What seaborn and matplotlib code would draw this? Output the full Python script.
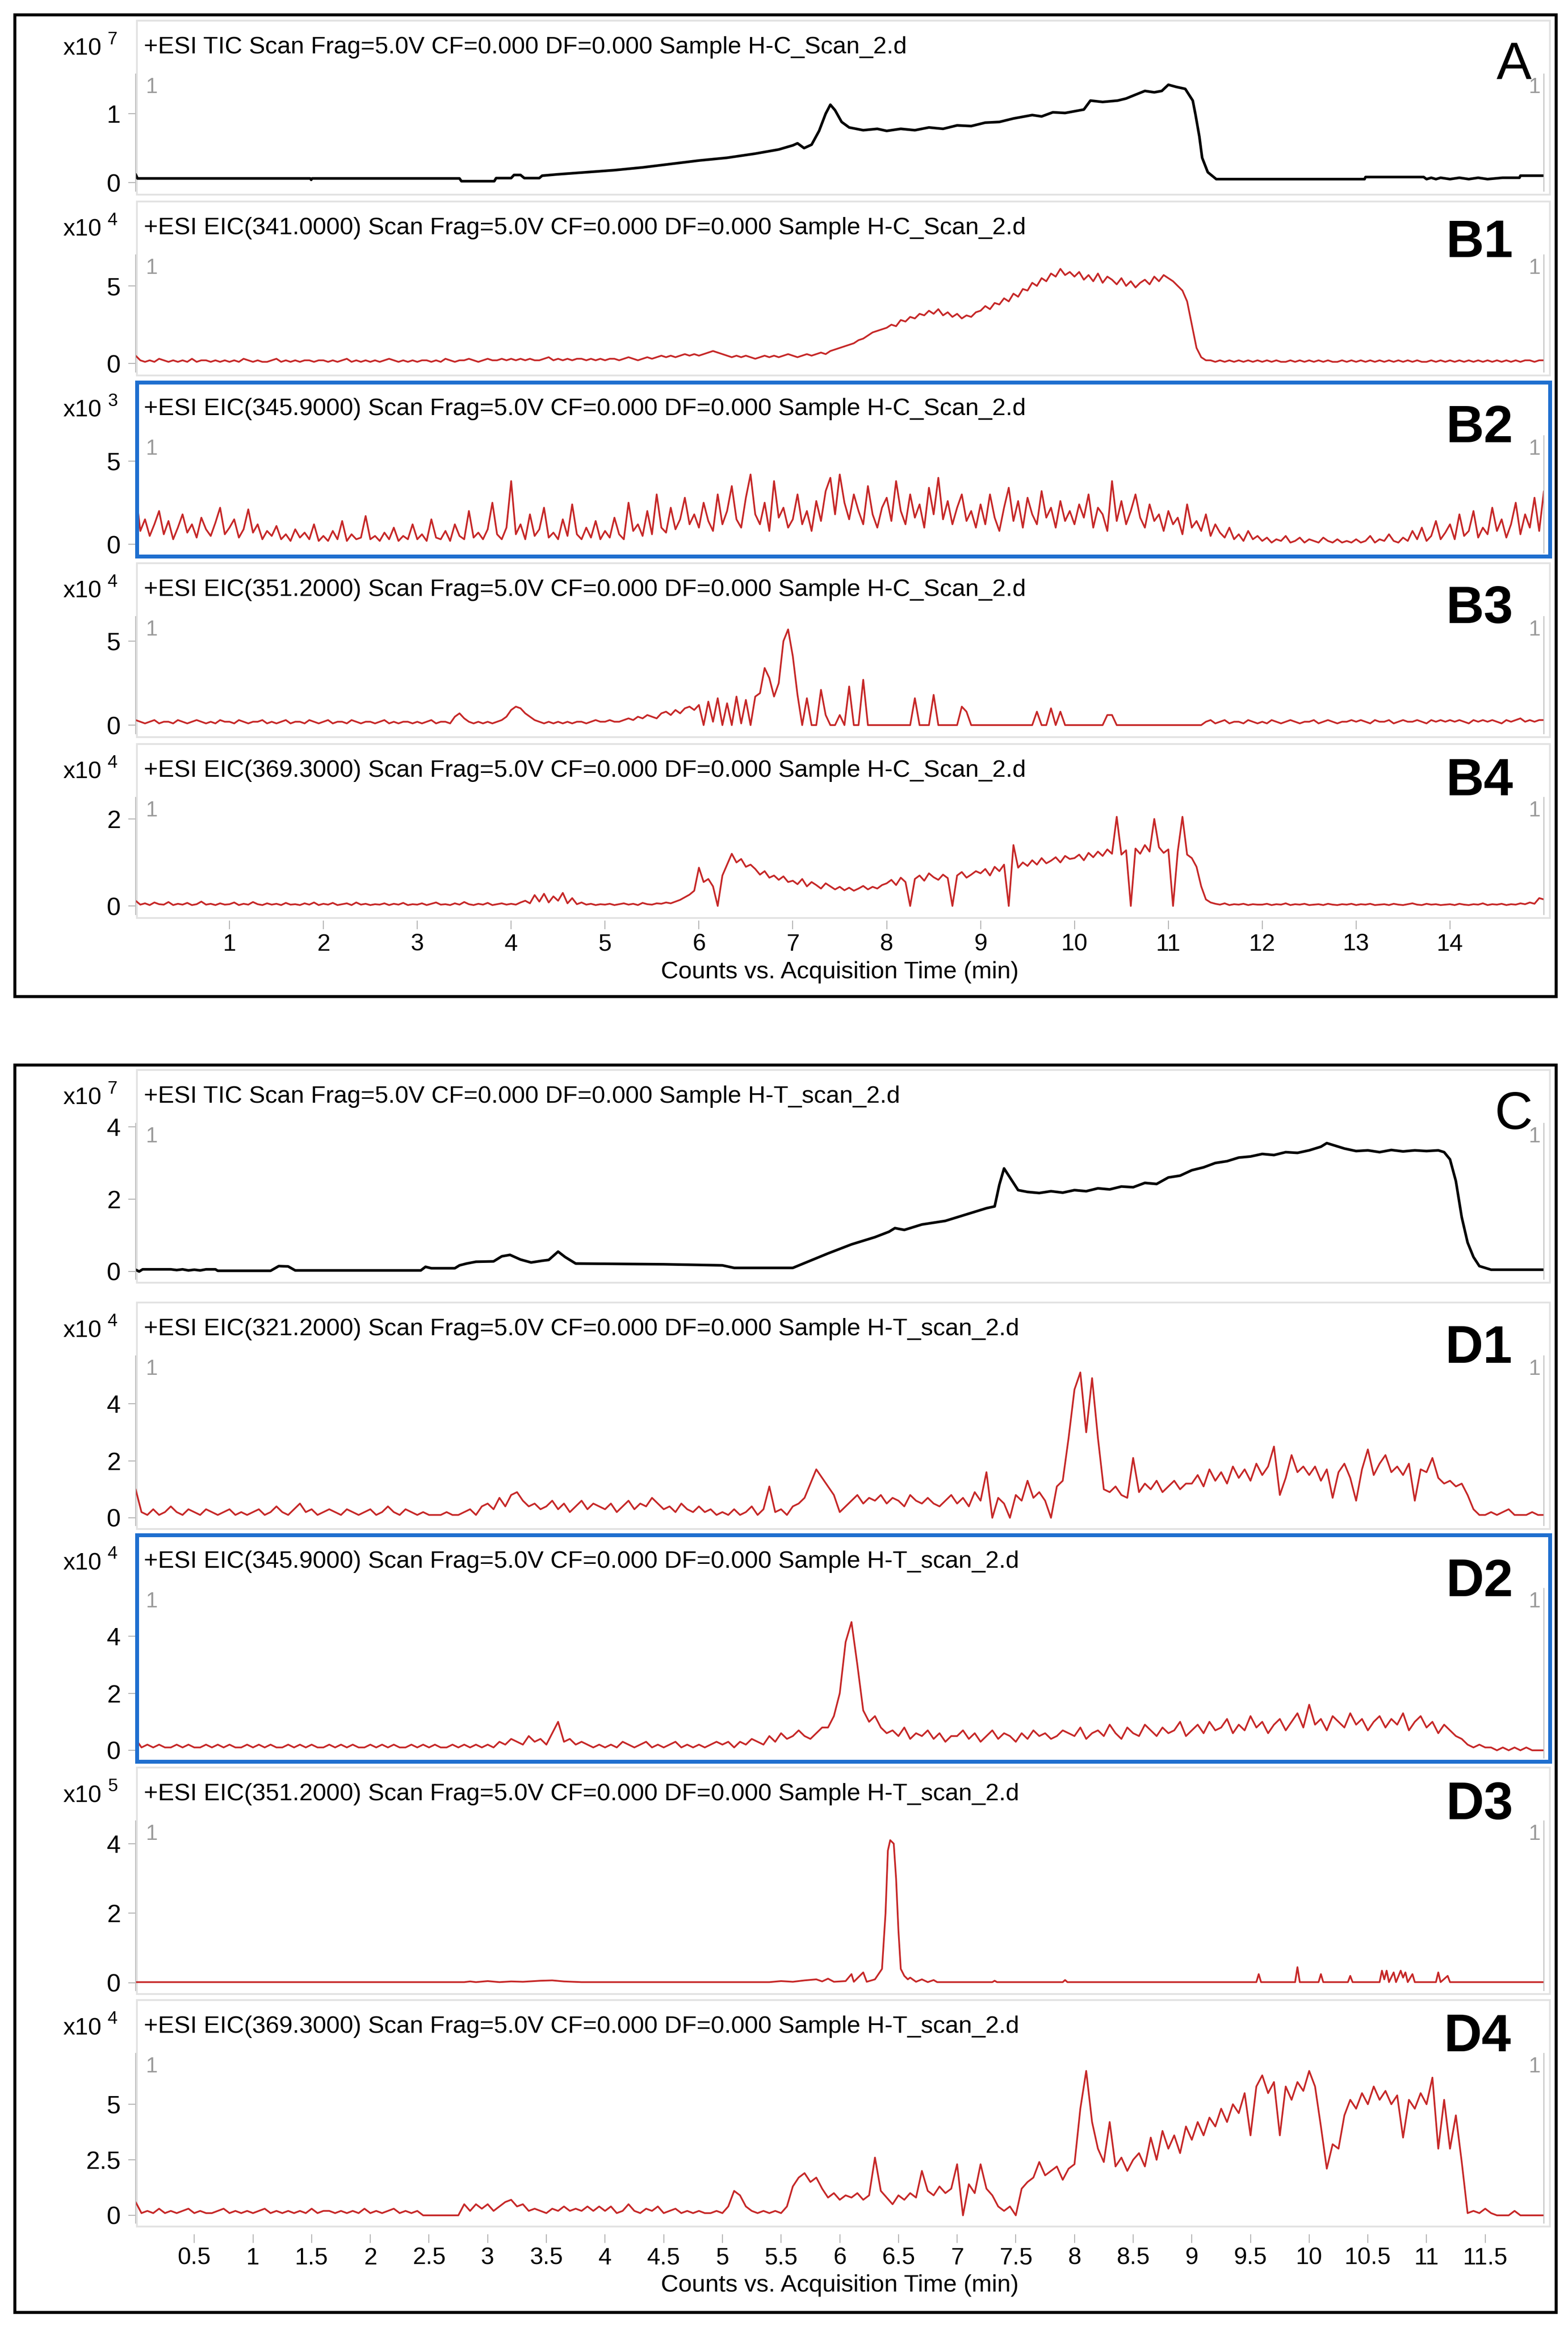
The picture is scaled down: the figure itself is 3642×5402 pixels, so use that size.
import numpy as np
import matplotlib
matplotlib.use("Agg")
import matplotlib.pyplot as plt
from matplotlib.patches import Rectangle
import seaborn as sns

# ---------------------------------------------------------------- data
STEP = 0.05  # min, sampling step of the gridded EIC traces

# TIC traces as (time [min], counts)
A_TIC = [(0, 0.12), (0.02, 0.06), (1.86, 0.06), (1.87, 0.04), (1.88, 0.06), (3.45, 0.06), (3.47, 0.02),
         (3.82, 0.02), (3.84, 0.065), (4.0, 0.065), (4.03, 0.11), (4.1, 0.11), (4.14, 0.065), (4.3, 0.065),
         (4.33, 0.1), (4.5, 0.12), (4.8, 0.15), (5.1, 0.18), (5.4, 0.22), (5.7, 0.27), (6.0, 0.32),
         (6.3, 0.36), (6.6, 0.42), (6.85, 0.48), (7.0, 0.54), (7.05, 0.57), (7.12, 0.5), (7.2, 0.55),
         (7.28, 0.75), (7.35, 1.0), (7.4, 1.13), (7.45, 1.05), (7.52, 0.88), (7.6, 0.8), (7.75, 0.76),
         (7.9, 0.78), (8.0, 0.75), (8.15, 0.78), (8.3, 0.76), (8.45, 0.8), (8.6, 0.78), (8.75, 0.83),
         (8.9, 0.82), (9.05, 0.87), (9.2, 0.88), (9.35, 0.93), (9.55, 0.98), (9.65, 0.96), (9.77, 1.02),
         (9.9, 1.01), (10.1, 1.06), (10.17, 1.19), (10.3, 1.17), (10.46, 1.19), (10.55, 1.22),
         (10.64, 1.27), (10.75, 1.33), (10.85, 1.31), (10.93, 1.33), (11.0, 1.42), (11.08, 1.39),
         (11.18, 1.36), (11.26, 1.19), (11.29, 0.98), (11.33, 0.67), (11.36, 0.36), (11.42, 0.15),
         (11.51, 0.05), (13.09, 0.05), (13.1, 0.08), (13.72, 0.08), (13.75, 0.05), (13.8, 0.07),
         (13.85, 0.05), (13.9, 0.07), (14.0, 0.05), (14.1, 0.07), (14.2, 0.05), (14.3, 0.07),
         (14.4, 0.05), (14.56, 0.07), (14.74, 0.07), (14.75, 0.1), (15.0, 0.1)]

C_TIC = [(0, 0.05), (0.03, 0.0), (0.06, 0.06), (0.3, 0.06), (0.35, 0.04), (0.4, 0.06), (0.45, 0.03),
         (0.5, 0.05), (0.55, 0.03), (0.6, 0.06), (0.68, 0.06), (0.7, 0.02), (1.15, 0.02), (1.22, 0.15),
         (1.3, 0.14), (1.36, 0.03), (2.43, 0.03), (2.47, 0.13), (2.52, 0.09), (2.72, 0.09), (2.76, 0.17),
         (2.82, 0.22), (2.9, 0.27), (3.05, 0.28), (3.12, 0.42), (3.19, 0.46), (3.28, 0.33), (3.37, 0.25),
         (3.47, 0.3), (3.52, 0.32), (3.6, 0.55), (3.66, 0.4), (3.75, 0.22), (4.5, 0.2), (5.0, 0.17),
         (5.1, 0.1), (5.6, 0.1), (5.75, 0.3), (5.9, 0.5), (6.1, 0.75), (6.3, 0.95), (6.42, 1.1),
         (6.47, 1.2), (6.55, 1.15), (6.7, 1.3), (6.9, 1.4), (7.1, 1.6), (7.25, 1.75), (7.32, 1.8),
         (7.36, 2.4), (7.4, 2.85), (7.45, 2.6), (7.52, 2.25), (7.6, 2.2), (7.7, 2.17), (7.8, 2.22),
         (7.9, 2.18), (8.0, 2.25), (8.1, 2.22), (8.2, 2.3), (8.3, 2.27), (8.4, 2.35), (8.5, 2.33),
         (8.6, 2.45), (8.7, 2.42), (8.8, 2.6), (8.9, 2.65), (9.0, 2.8), (9.1, 2.88), (9.2, 3.0),
         (9.3, 3.05), (9.4, 3.15), (9.5, 3.18), (9.6, 3.25), (9.7, 3.22), (9.8, 3.3), (9.9, 3.28),
         (10.0, 3.35), (10.1, 3.45), (10.15, 3.55), (10.2, 3.5), (10.3, 3.4), (10.4, 3.33), (10.5, 3.35),
         (10.6, 3.3), (10.7, 3.36), (10.8, 3.32), (10.9, 3.35), (11.0, 3.33), (11.1, 3.35), (11.15, 3.3),
         (11.2, 3.1), (11.25, 2.5), (11.3, 1.5), (11.35, 0.8), (11.4, 0.4), (11.45, 0.15), (11.55, 0.05),
         (12.0, 0.05)]

D3_EIC351 = [(0, 0.02), (2.8, 0.02), (2.85, 0.04), (2.9, 0.02), (3.0, 0.05), (3.1, 0.02), (3.2, 0.04),
             (3.3, 0.03), (3.45, 0.06), (3.55, 0.07), (3.65, 0.04), (3.8, 0.02), (5.4, 0.02), (5.5, 0.05),
             (5.6, 0.03), (5.7, 0.07), (5.8, 0.1), (5.85, 0.04), (5.9, 0.12), (5.95, 0.03), (6.05, 0.05),
             (6.1, 0.25), (6.12, 0.03), (6.2, 0.3), (6.23, 0.03), (6.3, 0.1), (6.36, 0.4), (6.39, 2.0),
             (6.41, 3.8), (6.43, 4.1), (6.46, 4.0), (6.48, 3.0), (6.5, 1.5), (6.52, 0.4), (6.55, 0.2),
             (6.58, 0.1), (6.6, 0.15), (6.65, 0.03), (6.7, 0.1), (6.75, 0.02), (6.8, 0.08), (6.83, 0.02),
             (7.3, 0.02), (7.32, 0.06), (7.34, 0.02), (7.9, 0.02), (7.92, 0.08), (7.94, 0.02), (9.55, 0.02),
             (9.57, 0.25), (9.59, 0.02), (9.88, 0.02), (9.9, 0.45), (9.92, 0.02), (10.08, 0.02),
             (10.1, 0.25), (10.12, 0.02), (10.33, 0.02), (10.35, 0.2), (10.37, 0.02), (10.6, 0.02),
             (10.62, 0.35), (10.64, 0.1), (10.66, 0.35), (10.68, 0.02), (10.72, 0.3), (10.74, 0.02),
             (10.78, 0.35), (10.8, 0.15), (10.82, 0.3), (10.84, 0.02), (10.88, 0.25), (10.9, 0.02),
             (11.08, 0.02), (11.1, 0.3), (11.12, 0.02), (11.18, 0.2), (11.2, 0.02), (12.0, 0.02)]

# gridded EIC traces (one row = one minute, STEP spacing), integer units
B1_EIC341 = [  # x 0.1e4
    5, 2, 1, 2, 1, 3, 2, 1, 2, 1, 2, 1, 3, 1, 2, 2, 1, 2, 1, 2,
    1, 2, 1, 3, 2, 1, 2, 1, 1, 2, 3, 1, 2, 1, 2, 1, 2, 2, 1, 2,
    2, 1, 2, 1, 2, 3, 1, 2, 1, 2, 1, 2, 1, 2, 3, 2, 1, 2, 1, 2,
    1, 2, 2, 1, 2, 1, 3, 2, 1, 2, 2, 3, 2, 1, 2, 3, 2, 2, 3, 2,
    3, 2, 3, 2, 3, 2, 2, 3, 4, 2, 3, 2, 3, 2, 3, 3, 2, 3, 2, 3,
    2, 3, 3, 2, 3, 4, 3, 2, 3, 4, 3, 4, 5, 4, 5, 4, 5, 6, 5, 6,
    5, 6, 7, 8, 7, 6, 5, 4, 5, 4, 5, 4, 3, 4, 5, 4, 5, 4, 5, 6,
    5, 4, 5, 6, 5, 6, 7, 6, 8, 9, 10, 11, 12, 13, 15, 16, 18, 20, 21, 22,
    23, 25, 24, 28, 27, 30, 29, 32, 31, 34, 32, 35, 31, 33, 30, 32, 29, 31, 30, 33,
    34, 37, 35, 39, 38, 42, 40, 45, 43, 48, 47, 52, 50, 55, 53, 58, 56, 61, 57, 59,
    56, 59, 54, 57, 53, 58, 52, 56, 54, 51, 55, 50, 53, 49, 52, 54, 51, 56, 53, 57,
    55, 53, 50, 47, 40, 25, 10, 4, 2, 2, 1, 2, 1, 2, 1, 2, 1, 2, 1, 2,
    1, 2, 1, 2, 1, 1, 2, 1, 2, 1, 2, 1, 2, 1, 2, 1, 1, 2, 1, 2,
    1, 2, 1, 2, 1, 2, 1, 2, 1, 2, 1, 2, 1, 2, 1, 1, 2, 1, 2, 1,
    2, 1, 2, 1, 2, 1, 2, 1, 2, 1, 2, 1, 2, 1, 2, 1, 2, 2, 1, 2,
    2]

B2_EIC345 = [  # x 0.1e3
    32, 8, 15, 5, 12, 20, 6, 14, 3, 10, 18, 7, 12, 4, 16, 9, 5, 13, 22, 6,
    10, 15, 4, 9, 21, 7, 12, 3, 8, 5, 11, 3, 6, 2, 9, 4, 7, 3, 12, 2,
    5, 2, 8, 3, 14, 2, 6, 3, 4, 17, 3, 5, 2, 7, 3, 10, 2, 5, 3, 12,
    3, 6, 2, 15, 4, 3, 8, 2, 12, 5, 3, 20, 4, 7, 3, 9, 25, 6, 3, 10,
    38, 6, 12, 3, 18, 5, 9, 22, 4, 7, 3, 15, 5, 24, 6, 3, 10, 4, 14, 3,
    8, 4, 16, 6, 3, 25, 8, 12, 5, 20, 6, 30, 10, 7, 22, 9, 15, 28, 12, 18,
    10, 25, 14, 8, 30, 12, 20, 35, 15, 10, 28, 42, 18, 12, 25, 8, 38, 16, 22, 10,
    15, 30, 12, 20, 8, 26, 14, 32, 40, 18, 42, 25, 15, 30, 20, 12, 35, 18, 10, 22,
    28, 14, 38, 20, 12, 30, 16, 24, 10, 34, 18, 40, 15, 26, 12, 22, 30, 14, 20, 10,
    24, 12, 30, 16, 8, 22, 34, 14, 26, 10, 28, 18, 12, 32, 16, 22, 10, 26, 14, 20,
    12, 24, 16, 30, 10, 22, 18, 8, 38, 14, 26, 12, 20, 30, 16, 10, 24, 14, 18, 8,
    20, 12, 16, 6, 24, 10, 14, 8, 18, 5, 12, 7, 4, 10, 3, 6, 2, 8, 3, 5,
    2, 4, 1, 3, 2, 5, 1, 2, 4, 1, 3, 2, 1, 4, 2, 1, 3, 1, 2, 1,
    3, 1, 2, 5, 1, 3, 2, 6, 2, 1, 4, 2, 8, 3, 10, 2, 5, 14, 3, 7,
    12, 3, 18, 5, 8, 20, 4, 10, 6, 22, 8, 15, 4, 12, 25, 6, 18, 10, 28, 8,
    32]

B3_EIC351 = [  # x 0.1e4
    3, 2, 1, 2, 3, 1, 2, 2, 1, 3, 2, 1, 2, 3, 2, 1, 2, 1, 3, 2,
    2, 1, 3, 2, 1, 2, 2, 3, 1, 2, 1, 2, 3, 1, 2, 2, 1, 3, 2, 1,
    2, 3, 1, 2, 2, 1, 3, 2, 1, 2, 2, 1, 2, 3, 1, 2, 1, 2, 2, 1,
    2, 1, 2, 3, 1, 2, 2, 1, 5, 7, 4, 2, 1, 2, 1, 2, 1, 2, 3, 5,
    9, 11, 10, 7, 5, 3, 2, 1, 2, 1, 2, 1, 2, 1, 2, 2, 1, 2, 3, 2,
    2, 3, 2, 2, 3, 4, 3, 5, 4, 6, 5, 4, 7, 8, 6, 9, 7, 10, 11, 9,
    12, 0, 14, 2, 16, 0, 13, 0, 17, 1, 15, 0, 17, 19, 34, 28, 17, 25, 50, 57,
    41, 18, 0, 16, 0, 0, 21, 6, 0, 0, 6, 0, 23, 0, 0, 27, 0, 0, 0, 0,
    0, 0, 0, 0, 0, 0, 16, 0, 0, 0, 18, 0, 0, 0, 0, 0, 11, 8, 0, 0,
    0, 0, 0, 0, 0, 0, 0, 0, 0, 0, 0, 0, 8, 0, 0, 10, 0, 8, 0, 0,
    0, 0, 0, 0, 0, 0, 0, 6, 6, 0, 0, 0, 0, 0, 0, 0, 0, 0, 0, 0,
    0, 0, 0, 0, 0, 0, 0, 0, 2, 3, 1, 2, 3, 1, 2, 2, 1, 3, 2, 1,
    2, 1, 3, 2, 1, 2, 3, 2, 1, 2, 2, 3, 1, 2, 3, 2, 1, 2, 2, 3,
    2, 3, 2, 1, 3, 2, 2, 3, 1, 2, 3, 2, 2, 3, 2, 1, 3, 2, 3, 2,
    3, 2, 3, 2, 1, 3, 2, 3, 2, 3, 2, 1, 3, 2, 3, 4, 2, 3, 2, 3,
    3]

B4_EIC369 = [  # x 0.01e4
    12, 3, 6, 2, 8, 4, 3, 9, 2, 5, 3, 7, 2, 4, 10, 3, 5, 2, 6, 3,
    4, 8, 2, 5, 3, 9, 4, 2, 6, 3, 5, 2, 7, 3, 4, 2, 6, 3, 8, 2,
    5, 3, 7, 2, 4, 6, 2, 8, 3, 5, 2, 4, 3, 6, 2, 5, 3, 7, 2, 4,
    3, 6, 2, 5, 8, 3, 4, 2, 6, 3, 9, 4, 2, 5, 3, 7, 2, 4, 6, 3,
    5, 3, 8, 12, 6, 25, 10, 28, 8, 22, 12, 30, 6, 18, 4, 8, 3, 5, 2, 4,
    3, 5, 2, 4, 6, 3, 5, 2, 7, 4, 3, 6, 5, 8, 6, 10, 14, 20, 26, 35,
    88, 55, 62, 45, 0, 70, 95, 120, 100, 108, 90, 95, 85, 72, 80, 65, 70, 60, 68, 55,
    58, 50, 62, 45, 55, 48, 40, 52, 45, 38, 44, 36, 42, 35, 40, 46, 38, 44, 40, 48,
    52, 60, 48, 65, 55, 0, 62, 70, 58, 75, 66, 60, 72, 64, 0, 70, 78, 65, 72, 80,
    75, 85, 70, 90, 80, 95, 0, 140, 88, 100, 92, 105, 95, 110, 98, 104, 112, 100, 115, 108,
    110, 118, 105, 122, 112, 125, 115, 130, 120, 205, 118, 128, 0, 132, 120, 140, 125, 200, 135, 122,
    130, 0, 125, 205, 118, 110, 90, 45, 15, 8, 5, 3, 6, 2, 4, 3, 5, 2, 4, 3,
    3, 5, 2, 4, 3, 6, 2, 4, 3, 5, 2, 3, 4, 2, 5, 3, 2, 4, 3, 5,
    2, 4, 3, 5, 2, 3, 4, 2, 5, 3, 2, 4, 6, 3, 2, 5, 3, 4, 2, 3,
    4, 2, 5, 3, 2, 4, 3, 6, 2, 4, 3, 5, 2, 4, 3, 6, 4, 8, 5, 18,
    15]

D1_EIC321 = [  # x 0.1e4
    10, 2, 1, 3, 1, 2, 4, 2, 1, 3, 2, 1, 3, 2, 1, 2, 3, 1, 2, 1,
    2, 3, 1, 2, 4, 2, 1, 3, 5, 2, 3, 1, 2, 3, 2, 1, 3, 2, 1, 2,
    3, 1, 2, 4, 2, 1, 3, 2, 1, 2, 1, 1, 1, 2, 1, 1, 2, 3, 1, 4,
    5, 3, 7, 4, 8, 9, 6, 4, 5, 3, 4, 6, 3, 5, 2, 4, 6, 3, 5, 4,
    3, 5, 2, 4, 6, 3, 5, 4, 7, 5, 3, 4, 2, 5, 3, 2, 4, 2, 3, 1,
    2, 1, 3, 1, 2, 4, 1, 3, 11, 2, 3, 1, 4, 5, 7, 12, 17, 14, 11, 8,
    2, 4, 6, 8, 5, 7, 6, 8, 5, 7, 6, 4, 8, 6, 5, 7, 5, 4, 6, 8,
    5, 7, 4, 9, 6, 16, 0, 7, 5, 0, 8, 6, 13, 7, 9, 6, 0, 11, 13, 28,
    45, 51, 30, 49, 28, 10, 9, 11, 8, 7, 21, 9, 12, 10, 13, 9, 11, 13, 10, 12,
    12, 15, 11, 17, 13, 16, 12, 18, 14, 17, 13, 19, 15, 18, 25, 8, 14, 22, 16, 18,
    15, 18, 13, 17, 7, 16, 19, 14, 6, 17, 24, 15, 19, 22, 16, 18, 15, 19, 6, 17,
    16, 21, 14, 12, 13, 11, 12, 8, 3, 1, 1, 2, 1, 2, 3, 1, 1, 1, 2, 1,
    1]

D2_EIC345 = [  # x 0.1e4
    4, 1, 2, 1, 2, 1, 1, 2, 1, 2, 1, 1, 2, 1, 2, 1, 2, 1, 1, 2,
    1, 2, 1, 2, 1, 1, 2, 1, 2, 1, 2, 1, 1, 2, 1, 2, 1, 2, 1, 1,
    2, 1, 2, 1, 2, 1, 1, 2, 1, 2, 1, 2, 1, 1, 2, 1, 2, 1, 2, 1,
    2, 1, 3, 2, 4, 3, 2, 5, 3, 4, 2, 6, 10, 3, 4, 2, 3, 2, 1, 2,
    1, 2, 1, 3, 2, 1, 2, 3, 1, 2, 1, 2, 3, 1, 2, 1, 2, 1, 2, 3,
    2, 3, 1, 3, 2, 4, 3, 2, 5, 3, 6, 4, 5, 7, 5, 4, 6, 8, 8, 12,
    20, 38, 45, 30, 14, 10, 12, 8, 6, 7, 5, 8, 4, 6, 5, 7, 4, 6, 3, 5,
    5, 7, 4, 6, 3, 5, 7, 4, 6, 5, 3, 6, 4, 7, 5, 6, 4, 5, 7, 6,
    5, 8, 4, 6, 7, 5, 9, 6, 4, 8, 6, 5, 9, 7, 5, 8, 6, 7, 10, 5,
    7, 9, 6, 10, 7, 8, 11, 6, 9, 7, 12, 8, 10, 6, 9, 11, 7, 10, 13, 8,
    16, 9, 11, 7, 12, 10, 8, 13, 9, 11, 7, 10, 12, 8, 11, 9, 13, 7, 10, 12,
    8, 10, 6, 9, 7, 5, 4, 2, 1, 2, 1, 1, 0, 1, 0, 1, 0, 1, 0, 0,
    0]

D4_EIC369 = [  # x 0.1e4
    6, 1, 2, 1, 3, 1, 2, 1, 2, 3, 1, 2, 1, 1, 2, 3, 1, 2, 1, 2,
    1, 2, 3, 1, 2, 1, 2, 1, 2, 1, 3, 1, 2, 2, 1, 2, 1, 2, 1, 3,
    1, 2, 1, 2, 3, 1, 2, 1, 2, 0, 0, 0, 0, 0, 0, 0, 5, 2, 5, 3,
    5, 2, 4, 6, 7, 4, 5, 2, 3, 2, 1, 3, 2, 4, 2, 3, 2, 4, 2, 4,
    2, 4, 1, 2, 5, 2, 1, 3, 2, 4, 1, 2, 3, 1, 2, 1, 2, 1, 1, 2,
    1, 4, 11, 9, 4, 2, 1, 2, 1, 2, 1, 4, 13, 17, 19, 15, 17, 12, 8, 10,
    7, 9, 8, 10, 7, 9, 26, 11, 8, 5, 9, 7, 10, 8, 20, 11, 9, 13, 10, 12,
    23, 0, 14, 10, 23, 12, 9, 4, 2, 4, 0, 12, 15, 17, 24, 18, 20, 22, 16, 21,
    23, 48, 65, 42, 30, 24, 42, 22, 26, 20, 25, 28, 22, 35, 25, 38, 30, 36, 28, 40,
    34, 42, 36, 44, 40, 48, 42, 50, 46, 55, 36, 58, 63, 55, 60, 36, 58, 52, 60, 56,
    65, 58, 40, 21, 32, 30, 45, 52, 48, 55, 50, 58, 52, 56, 50, 54, 35, 52, 48, 55,
    50, 62, 30, 52, 30, 45, 24, 1, 2, 1, 3, 1, 0, 0, 0, 2, 0, 0, 0, 0,
    0]

X1_TICKS = list(range(1, 15))
X1_LABELS = [str(v) for v in X1_TICKS]
X2_TICKS = [0.5, 1, 1.5, 2, 2.5, 3, 3.5, 4, 4.5, 5, 5.5, 6, 6.5, 7, 7.5, 8, 8.5, 9, 9.5, 10, 10.5, 11, 11.5]
X2_LABELS = ['0.5', '1', '1.5', '2', '2.5', '3', '3.5', '4', '4.5', '5', '5.5', '6', '6.5', '7', '7.5',
             '8', '8.5', '9', '9.5', '10', '10.5', '11', '11.5']

TAIL_C = "Sample H-C_Scan_2.d"
TAIL_T = "Sample H-T_scan_2.d"
MID = "Scan Frag=5.0V CF=0.000 DF=0.000"

# ---------------------------------------------------------------- figure
sns.set_theme(style="white")
plt.rcParams['font.family'] = ['Liberation Sans', 'DejaVu Sans']

W, H = 3642, 5402
fig = plt.figure(figsize=(W / 100, H / 100), dpi=100)
fig.patch.set_facecolor('white')


def fx(x):
    return x / W


def fy(y):
    return 1 - y / H


XL, XR = 315, 3586
RED = '#c62828'
GRAYTICK = '#b0b0b0'


def pairs(p):
    return np.array([a for a, _ in p]), np.array([b for _, b in p])


def grid(v, scale):
    v = np.asarray(v, dtype=float) / scale
    return np.arange(len(v)) * STEP, v


tA, yA = pairs(A_TIC)
tC, yC = pairs(C_TIC)
tD3, yD3 = pairs(D3_EIC351)
tB1, yB1 = grid(B1_EIC341, 10)
tB2, yB2 = grid(B2_EIC345, 10)
tB3, yB3 = grid(B3_EIC351, 10)
tB4, yB4 = grid(B4_EIC369, 100)
tD1, yD1 = grid(D1_EIC321, 10)
tD2, yD2 = grid(D2_EIC345, 10)
tD4, yD4 = grid(D4_EIC369, 10)

TIC_LW, EIC_LW = 4.4, 2.9

# header_y, zero_off, bottom_off, px per unit, yticks, ylabels, exponent, title, letter, letter pos, bold, data, color, lw, xlim, blue
panels = [
    (110, 314, 334, 160, [0, 1], ['0', '1'], '7', f"+ESI TIC {MID} {TAIL_C}", 'A', (3557, 152), False, (tA, yA), 'black', TIC_LW, (0, 15), False),
    (530, 314, 334, 36, [0, 5], ['0', '5'], '4', f"+ESI EIC(341.0000) {MID} {TAIL_C}", 'B1', (3515, 565), True, (tB1, yB1), RED, EIC_LW, (0, 15), False),
    (950, 314, 334, 38.6, [0, 5], ['0', '5'], '3', f"+ESI EIC(345.9000) {MID} {TAIL_C}", 'B2', (3515, 995), True, (tB2, yB2), RED, EIC_LW, (0, 15), True),
    (1370, 314, 334, 39, [0, 5], ['0', '5'], '4', f"+ESI EIC(351.2000) {MID} {TAIL_C}", 'B3', (3515, 1415), True, (tB3, yB3), RED, EIC_LW, (0, 15), False),
    (1790, 314, 334, 101, [0, 2], ['0', '2'], '4', f"+ESI EIC(369.3000) {MID} {TAIL_C}", 'B4', (3515, 1815), True, (tB4, yB4), RED, EIC_LW, (0, 15), False),
    (2547, 406, 424, 84, [0, 2, 4], ['0', '2', '4'], '7', f"+ESI TIC {MID} {TAIL_T}", 'C', (3560, 2590), False, (tC, yC), 'black', TIC_LW, (0, 12), False),
    (3087, 438, 456, 66.2, [0, 2, 4], ['0', '2', '4'], '4', f"+ESI EIC(321.2000) {MID} {TAIL_T}", 'D1', (3513, 3133), True, (tD1, yD1), RED, EIC_LW, (0, 12), False),
    (3627, 438, 456, 66.2, [0, 2, 4], ['0', '2', '4'], '4', f"+ESI EIC(345.9000) {MID} {TAIL_T}", 'D2', (3515, 3675), True, (tD2, yD2), RED, EIC_LW, (0, 12), True),
    (4167, 438, 456, 80.8, [0, 2, 4], ['0', '2', '4'], '5', f"+ESI EIC(351.2000) {MID} {TAIL_T}", 'D3', (3515, 4193), True, (tD3, yD3), RED, EIC_LW, (0, 12), False),
    (4707, 438, 456, 51.6, [0, 2.5, 5], ['0', '2.5', '5'], '4', f"+ESI EIC(369.3000) {MID} {TAIL_T}", 'D4', (3510, 4732), True, (tD4, yD4), RED, EIC_LW, (0, 12), False),
]

for (h, zoff, boff, k, yt, yl, expo, title, letter, lpos, bold, (tt, yy), col, lw, xlim, blue) in panels:
    top, zero, bottom = h + 62, h + zoff, h + boff
    # panel frame
    fr = Rectangle((fx(318), fy(bottom + 8)), fx(3600) - fx(318), (bottom + 8 - (h - 62)) / H,
                   transform=fig.transFigure, fill=False,
                   edgecolor='#1f6fcf' if blue else '#e2e2e2',
                   linewidth=6.5 if blue else 3.0, zorder=6 if blue else -1)
    fig.add_artist(fr)

    ax = fig.add_axes([fx(XL), fy(bottom), fx(XR) - fx(XL), (bottom - top) / H])
    ax.set_facecolor('none')
    sns.lineplot(x=tt, y=yy, ax=ax, color=col, linewidth=lw, estimator=None, sort=False)
    ax.set_xlim(*xlim)
    ax.set_ylim(-(bottom - zero) / k, (zero - top) / k)
    ax.set_xticks([])
    ax.set_yticks(yt)
    ax.set_yticklabels(yl)
    ax.set_xlabel('')
    ax.set_ylabel('')
    for s in ('top', 'bottom'):
        ax.spines[s].set_visible(False)
    for s in ('left', 'right'):
        ax.spines[s].set_visible(True)
        ax.spines[s].set_color('#bdbdbd')
        ax.spines[s].set_linewidth(1.6)
    ax.tick_params(axis='y', left=True, direction='out', length=12, width=1.6,
                   color=GRAYTICK, labelsize=42, pad=13, labelcolor='black')

    # texts
    fig.text(fx(334), fy(h), title, fontsize=40.5, ha='left', va='center', color='black')
    fig.text(fx(236), fy(h + 4), 'x10', fontsize=40, ha='right', va='center', color='black')
    fig.text(fx(250), fy(h - 18), expo, fontsize=30, ha='left', va='center', color='black')
    fig.text(fx(lpos[0]), fy(lpos[1]), letter, fontsize=88, ha='right', va='center',
             fontweight='bold' if bold else 'normal', color='black')
    fig.text(fx(338), fy(top + 31), '1', fontsize=36, ha='left', va='center', color='#9a9a9a')
    fig.text(fx(3578), fy(top + 31), '1', fontsize=36, ha='right', va='center', color='#9a9a9a')

# x axes (scales under each group)
for tick_top, xlim, ticks, labels, xlab_y in [(2138, (0, 15), X1_TICKS, X1_LABELS, 2258),
                                             (5189, (0, 12), X2_TICKS, X2_LABELS, 5308)]:
    axx = fig.add_axes([fx(XL), fy(tick_top), fx(XR) - fx(XL), 0.00005])
    axx.set_xlim(*xlim)
    axx.set_xticks(ticks)
    axx.set_xticklabels(labels)
    axx.set_yticks([])
    for s in axx.spines.values():
        s.set_visible(False)
    axx.patch.set_visible(False)
    axx.tick_params(axis='x', bottom=True, direction='out', length=14.5, width=1.6,
                    color=GRAYTICK, labelsize=40, pad=7, labelcolor='black')
    fig.text(fx((XL + XR) / 2), fy(xlab_y), 'Counts vs. Acquisition Time (min)', fontsize=40.5,
             ha='center', va='center', color='black')

# outer boxes
for (y0, y1) in [(34, 2314), (2473, 5370)]:
    fig.add_artist(Rectangle((fx(34), fy(y1)), fx(3614) - fx(34), (y1 - y0) / H,
                             transform=fig.transFigure, fill=False, edgecolor='black',
                             linewidth=5, zorder=7))

fig.savefig('out.png', dpi=100, facecolor='white')
